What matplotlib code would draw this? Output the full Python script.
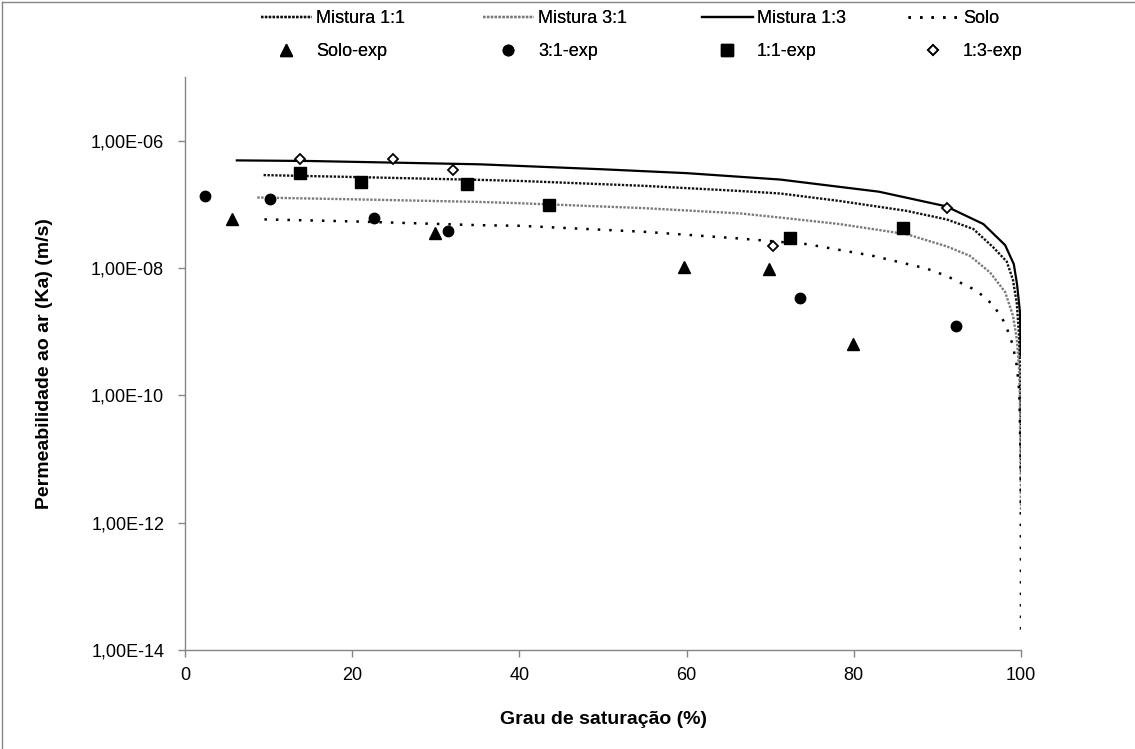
import math
import matplotlib
matplotlib.use("Agg")
import matplotlib.pyplot as plt
from matplotlib.lines import Line2D
from matplotlib.ticker import FixedLocator, FuncFormatter, NullLocator

plt.rcParams["font.family"] = ["Liberation Sans", "DejaVu Sans"]

# Model curves: degree of saturation (%) and air permeability Ka (m/s)
mix11_s = [9.4, 20, 35.3, 40.1, 55, 66.4, 71.2, 78.3, 86.3, 91.1, 94.3, 96.7,
           98.3, 99.04, 99.5, 99.75, 99.9, 99.97, 100.0]
mix11_k = [2.88e-7, 2.69e-7, 2.42e-7, 2.33e-7, 1.95e-7, 1.62e-7, 1.48e-7, 1.13e-7,
           7.9e-8, 5.8e-8, 4.1e-8, 2.1e-8, 1.26e-8, 6.5e-9, 2.75e-9, 9.3e-10,
           2.5e-10, 4.0e-11, 6.3e-12]

mix31_s = [8.65, 20, 35.3, 40.1, 55, 66.4, 71.2, 78.3, 86.3, 91.1, 93.9, 96.3,
           98.1, 99.04, 99.5, 99.8, 99.93, 100.0]
mix31_k = [1.28e-7, 1.20e-7, 1.09e-7, 1.04e-7, 8.7e-8, 7.2e-8, 6.2e-8, 4.9e-8,
           3.4e-8, 2.19e-8, 1.55e-8, 8.5e-9, 4.2e-9, 1.78e-9, 7.6e-10, 2.3e-10,
           3.2e-11, 1.6e-12]

mix13_s = [6.2, 15, 25, 35.3, 50, 60, 71.2, 83.0, 91.05, 95.5, 98.1, 99.14,
           99.53, 99.88, 99.96]
mix13_k = [4.9e-7, 4.79e-7, 4.52e-7, 4.25e-7, 3.55e-7, 3.09e-7, 2.45e-7, 1.58e-7,
           9.3e-8, 4.9e-8, 2.29e-8, 1.15e-8, 5.5e-9, 2.0e-9, 4.2e-10]

solo_s = [9.5, 20, 35.3, 40.1, 55, 66.4, 74.4, 82.3, 88.7, 91.1, 94.7, 96.7,
          98.1, 99.0, 99.5, 99.8, 99.95, 99.99, 100.0]
solo_k = [5.8e-8, 5.4e-8, 4.7e-8, 4.6e-8, 3.7e-8, 2.9e-8, 2.37e-8, 1.55e-8,
          9.8e-9, 7.5e-9, 4.4e-9, 2.6e-9, 1.35e-9, 6.3e-10, 2.9e-10, 1.12e-10,
          1.0e-11, 3.2e-13, 2.0e-14]

# Laboratory measurements
solo_exp_s = [5.6, 29.9, 59.7, 69.9, 79.9]
solo_exp_k = [5.98e-8, 3.52e-8, 1.02e-8, 9.6e-9, 6.5e-10]

e31_exp_s = [2.4, 10.2, 22.6, 31.5, 73.6, 92.2]
e31_exp_k = [1.35e-7, 1.23e-7, 6.2e-8, 3.82e-8, 3.32e-9, 1.22e-9]

e11_exp_s = [13.7, 21.0, 33.7, 43.6, 72.4, 85.9]
e11_exp_k = [3.16e-7, 2.28e-7, 2.12e-7, 9.7e-8, 2.94e-8, 4.22e-8]

e13_exp_s = [13.8, 24.9, 32.1, 70.3, 91.2]
e13_exp_k = [5.11e-7, 5.11e-7, 3.4e-7, 2.22e-8, 8.7e-8]

x_ticks = [0, 20, 40, 60, 80, 100]
y_ticks = [1e-14, 1e-12, 1e-10, 1e-08, 1e-06]

W, H = 1135, 749
fig = plt.figure(figsize=(W / 100, H / 100), dpi=100)
ax = fig.add_axes([185 / W, 1 - 650 / H, (1021 - 185) / W, (650 - 77) / H])

grey = "#868686"
l11, = ax.plot(mix11_s, mix11_k, color="#111111", lw=1.7,
               linestyle=(0, (1, 0.65)), dash_capstyle="butt", label="Mistura 1:1")
l31, = ax.plot(mix31_s, mix31_k, color="#7a7a7a", lw=1.7,
               linestyle=(0, (1, 0.65)), dash_capstyle="butt", label="Mistura 3:1")
l13, = ax.plot(mix13_s, mix13_k, color="black", lw=1.6, label="Mistura 1:3")
lso, = ax.plot(solo_s, solo_k, color="black", lw=1.8,
               linestyle=(0, (1, 3.6)), dash_capstyle="butt", label="Solo")

m_so, = ax.plot(solo_exp_s, solo_exp_k, "^", color="black", ms=8.5, ls="none",
                label="Solo-exp", zorder=5)
m_31, = ax.plot(e31_exp_s, e31_exp_k, "o", color="black", ms=7.5, ls="none",
                label="3:1-exp", zorder=5)
m_11, = ax.plot(e11_exp_s, e11_exp_k, "s", color="black", ms=8, ls="none",
                label="1:1-exp", zorder=5)
m_13, = ax.plot(e13_exp_s, e13_exp_k, "D", mfc="white", mec="black", mew=1.3,
                ms=5.6, ls="none", label="1:3-exp", zorder=6)

ax.set_yscale("log")
ax.set_xlim(0, 100)
ax.set_ylim(1e-14, 1e-5)
ax.xaxis.set_major_locator(FixedLocator(x_ticks))
ax.yaxis.set_major_locator(FixedLocator(y_ticks))
ax.yaxis.set_minor_locator(NullLocator())


def sci_comma(v, pos):
    exp = int(round(math.log10(v)))
    sign = "-" if exp < 0 else "+"
    return f"1,00E{sign}{abs(exp):02d}"


ax.yaxis.set_major_formatter(FuncFormatter(sci_comma))
ax.xaxis.set_major_formatter(FuncFormatter(lambda v, p: f"{int(v)}"))

for side in ("top", "right"):
    ax.spines[side].set_visible(False)
for side in ("left", "bottom"):
    ax.spines[side].set_color(grey)
    ax.spines[side].set_linewidth(1.0)
ax.tick_params(axis="both", direction="out", length=5, width=1.0, color=grey,
               labelsize=13, labelcolor="black")
ax.tick_params(axis="y", pad=10)
ax.tick_params(axis="x", pad=7)

ax.set_xlabel("Grau de saturação (%)", fontsize=14, fontweight="bold", va="center")
ax.set_ylabel("Permeabilidade ao ar (Ka) (m/s)", fontsize=14, fontweight="bold",
              va="center")
ax.xaxis.set_label_coords(0.5, (650 - 720) / 573)
ax.yaxis.set_label_coords((45 - 185) / 836, 0.5)

# Legend laid out as four columns of two entries
columns = [(l11, m_so, 261), (l31, m_31, 483), (l13, m_11, 702), (lso, m_13, 908)]
for line_h, mark_h, x0 in columns:
    leg = fig.legend(handles=[line_h, mark_h], loc="upper left",
                     bbox_to_anchor=(x0 / W, 1 - 10 / H), frameon=False,
                     fontsize=13, handlelength=2.8, handletextpad=0.25,
                     borderpad=0, borderaxespad=0, labelspacing=0.9, numpoints=1)
    fig.add_artist(leg)

# chart area border (top and left edges)
fig.add_artist(Line2D([2 / W, 1], [1 - 2 / H, 1 - 2 / H], color=grey, lw=1.0))
fig.add_artist(Line2D([2 / W, 2 / W], [0, 1 - 2 / H], color=grey, lw=1.0))

fig.savefig("out.png", dpi=100)
